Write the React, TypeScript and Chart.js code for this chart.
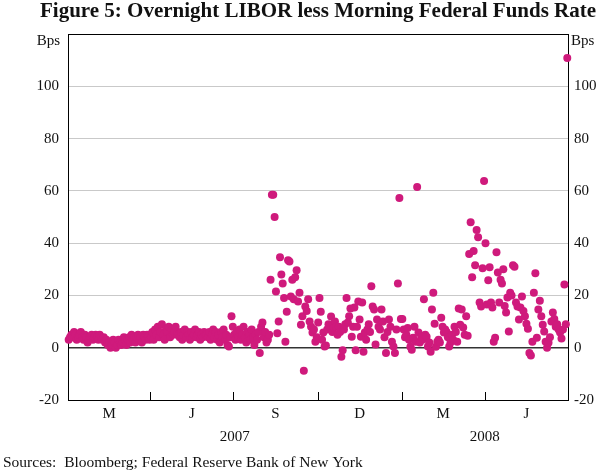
import { useEffect, useRef } from 'react';
import { Chart, registerables } from 'chart.js';

Chart.register(...registerables);

const FONT = "'Liberation Serif', 'Times New Roman', Times, serif";
const PINK = '#cf1a7c';
const TEXT = '#111111';

// Spread (bps) per business day, month by month, Jan 2007 – Jun 2008
const jan07 = [3, 4, 5, 4, 6, 5, 3, 4, 5, 6, 4, 3, 5, 4, 2, 3, 4, 5, 3, 4, 5];
const feb07 = [4, 3, 5, 4, 3, 4, 2, 3, 1, 2, 0, 1, 3, 2, 0, 1, 3, 2, 1];
const mar07 = [2, 4, 3, 1, 3, 4, 2, 5, 3, 4, 2, 4, 5, 3, 4, 2, 5, 4, 3, 5, 4, 3];
const apr07 = [4, 6, 3, 7, 5, 8, 4, 6, 9, 5, 3, 7, 6, 8, 4, 7, 5, 6, 8, 5];
const may07 = [5, 4, 6, 3, 5, 7, 4, 6, 5, 3, 6, 4, 5, 7, 4, 5, 6, 3, 5, 4, 6, 5];
const jun07 = [5, 4, 6, 3, 5, 7, 4, 6, 3, 5, 2, 6, 4, 7, 3, 5, 1, 0.5, 4, 12, 8];
const jul07 = [5, 3, 6, 4, 7, 3, 5, 8, 4, 2, 6, 5, 3, 7, 4, 1, 5, 3, 6, -2, 8];
const aug07 = [9.6, 4, 6, 2, 3, 5, 26, 58.5, 58.5, 50, 21.5, 5.5, 10, 34.6, 28, 24.6, 19, 2.3, 13.8, 33.5, 33];
const sep07 = [19.6, 26, 18.5, 27, 29.6, 17.7, 21, 8.8, 12, -8.8, 15.8, 14, 18.5, 10, 8, 5.8, 7, 2.3, 4];
const oct07 = [9.6, 19, 13.8, 3, 5.8, 0.5, 0.8, 7, 9, 8, 11.9, 6, 7.7, 10, 8, 5, 8, 6, -3.5, -1, 7, 9];
const nov07 = [19, 9.6, 12, 15, 4.2, 8, 15.4, -1, 8, 17.7, 10.8, 4.2, 17.3, -1.5, 5.8, 3, 7, 9, 6, 23.5, 15.8];
const dec07 = [14.6, 1.2, 10.8, 8, 7, 14.6, 10, 4, -2, 6, 10.8, 8, 2.3, 0.5, -2, 7, 24.6, 57.3, 11];
const jan08 = [11, 7, 4, 5, 7.5, 3, 0.4, -0.8, 3.8, 8, 2.3, 61.5, 5.8, 2, 4, 3, 18.5, 5, 4.2, 0.5, 2];
const feb08 = [-1.5, 14.6, 21, 9.2, 0.4, 2.3, 3, 2, 11.5, 8, 5.8, 7, 6, 4, 0.5, 2, 5, 3, 8, 6];
const mar08 = [2.3, 15, 8.8, 14.6, 7.7, 5, 12, 4.6, 35.8, 48, 27, 37, 31.5, 45, 42.3, 17.3, 15.8, 30.4, 63.8];
const apr08 = [40, 16.5, 25.8, 30.8, 17.3, 15.4, 2.3, 3.8, 36.5, 28.8, 17.3, 26, 24.6, 30, 16, 13.5, 19.2, 6.2, 21, 20];
const may08 = [31.5, 31, 17.3, 15.8, 10.8, 15.4, 19.6, 14, 12, 9.2, 7.3, -2, -3, 2.3, 21, 28.5, 3.8, 14.6, 18];
const jun08 = [12, 8.8, 6.2, 2.3, 0, 1.9, 4, 10, 13.5, 11, 8, 9, 7, 5.8, 3.5, 7, 24.2, 9, 110.8];

const monthValues = [
  jan07, feb07, mar07, apr07, may07, jun07, jul07, aug07, sep07, oct07, nov07, dec07,
  jan08, feb08, mar08, apr08, may08, jun08,
];
// Day offsets (from 1 Jan 2007) of each month start, plus the end (1 Jul 2008)
const monthStarts = [0, 31, 59, 90, 120, 151, 181, 212, 243, 273, 304, 334, 365, 396, 425, 456, 486, 517, 547];

// Quarter boundaries and labels
const quarterStarts = [0, 90, 181, 273, 365, 456, 547];
const quarterLabels = ['M', 'J', 'S', 'D', 'M', 'J'];
const yearLabels = ['2007', '2008'];
const yearBounds = [0, 365, 547];

const yTicks = [-20, 0, 20, 40, 60, 80, 100, 120];

export default function App() {
  const ref = useRef<HTMLCanvasElement | null>(null);

  useEffect(() => {
    const points: { x: number; y: number }[] = [];
    monthValues.forEach((vals, m) => {
      const a = monthStarts[m];
      const b = monthStarts[m + 1];
      vals.forEach((v, i) => {
        points.push({ x: a + ((i + 0.5) / vals.length) * (b - a), y: v });
      });
    });

    const quarterMids = quarterLabels.map((_, i) => (quarterStarts[i] + quarterStarts[i + 1]) / 2);

    const decor = {
      id: 'decor',
      afterDraw(chart: any) {
        const ctx = chart.ctx as CanvasRenderingContext2D;
        const area = chart.chartArea;
        const xs = chart.scales.x;
        ctx.save();
        // inner tick marks on the x axis at quarter boundaries
        ctx.strokeStyle = '#000';
        ctx.lineWidth = 1;
        quarterStarts.slice(1, -1).forEach((d) => {
          const px = Math.round(xs.getPixelForValue(d)) + 0.5;
          ctx.beginPath();
          ctx.moveTo(px, area.bottom);
          ctx.lineTo(px, area.bottom - 8);
          ctx.stroke();
        });
        // year labels
        ctx.fillStyle = TEXT;
        ctx.font = `15px ${FONT}`;
        ctx.textAlign = 'center';
        ctx.textBaseline = 'middle';
        yearLabels.forEach((lab, i) => {
          const mid = (yearBounds[i] + yearBounds[i + 1]) / 2;
          ctx.fillText(lab, xs.getPixelForValue(mid), 437);
        });
        // Bps unit labels
        ctx.textAlign = 'right';
        ctx.fillText('Bps', area.left - 8, 41);
        ctx.textAlign = 'left';
        ctx.fillText('Bps', area.right + 3, 41);
        // title
        ctx.font = `bold 21px ${FONT}`;
        ctx.textAlign = 'left';
        ctx.textBaseline = 'alphabetic';
        ctx.fillText('Figure 5: Overnight LIBOR less Morning Federal Funds Rate', 40, 17);
        // source
        ctx.font = `15.5px ${FONT}`;
        ctx.fillText('Sources:  Bloomberg; Federal Reserve Bank of New York', 3, 467);
        ctx.restore();
      },
    };

    const yTickBuild = (s: any) => {
      s.ticks = yTicks.map((v) => ({ value: v }));
    };
    const yLabel = (v: any) => (v === 120 ? '' : String(v));

    const chart = new Chart(ref.current as HTMLCanvasElement, {
      type: 'scatter',
      data: {
        datasets: [
          {
            data: points,
            pointRadius: 4,
            pointHoverRadius: 4,
            pointBackgroundColor: PINK,
            pointBorderWidth: 0,
            clip: false as any,
          },
        ],
      },
      options: {
        animation: false,
        responsive: false,
        events: [],
        layout: { padding: { top: 34, left: 0, right: 0, bottom: 0 } },
        plugins: { legend: { display: false }, tooltip: { enabled: false }, title: { display: false } },
        scales: {
          x: {
            type: 'linear',
            min: 0,
            max: 547,
            afterBuildTicks: (s: any) => {
              s.ticks = quarterMids.map((v) => ({ value: v }));
            },
            ticks: {
              autoSkip: false,
              maxRotation: 0,
              padding: 5,
              color: TEXT,
              font: { family: FONT, size: 15 },
              callback: (_v: any, i: number) => quarterLabels[i],
            },
            grid: { display: false, drawTicks: false },
            border: { display: true, color: '#000', width: 1 },
            afterFit: (s: any) => {
              s.height = 70;
            },
          },
          y: {
            position: 'left',
            min: -20,
            max: 120,
            afterBuildTicks: yTickBuild,
            ticks: {
              padding: 9,
              color: TEXT,
              font: { family: FONT, size: 15 },
              callback: yLabel,
            },
            grid: {
              drawTicks: false,
              color: (c: any) =>
                c.tick.value === 0 ? '#333' : c.tick.value === 120 ? '#000' : c.tick.value === -20 ? 'rgba(0,0,0,0)' : '#c9c9c9',
              lineWidth: (c: any) => (c.tick.value === 0 ? 1.4 : 1),
            },
            border: { display: true, color: '#000', width: 1 },
            afterFit: (s: any) => {
              s.width = 68;
            },
          },
          y2: {
            position: 'right',
            min: -20,
            max: 120,
            afterBuildTicks: yTickBuild,
            ticks: {
              padding: 6,
              color: TEXT,
              font: { family: FONT, size: 15 },
              callback: yLabel,
            },
            grid: { display: false, drawTicks: false },
            border: { display: true, color: '#000', width: 1 },
            afterFit: (s: any) => {
              s.width = 32;
            },
          },
        },
      },
      plugins: [decor],
    });

    return () => {
      chart.destroy();
    };
  }, []);

  return (
    <div style={{ position: 'fixed', left: 0, top: 0, width: 600, height: 470, background: '#fff' }}>
      <canvas ref={ref} width={600} height={470} style={{ display: 'block', width: 600, height: 470 }} />
    </div>
  );
}
